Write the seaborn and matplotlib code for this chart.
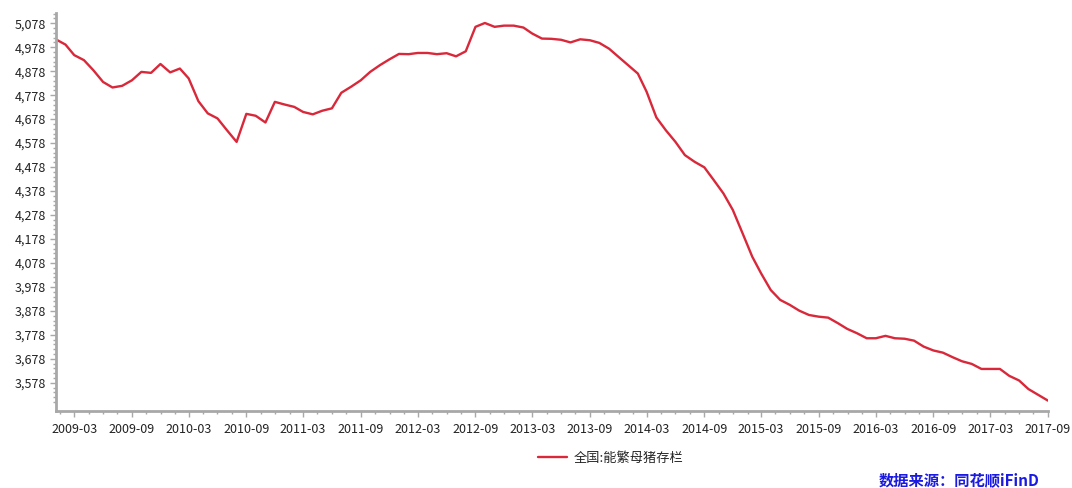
# =====================================================
# 全国能繁母猪存栏 - LINE CHART
# =====================================================

import pandas as pd
import matplotlib.pyplot as plt
import matplotlib.dates as mdates
from matplotlib.ticker import FixedLocator, FuncFormatter
import seaborn as sns

# =====================================================
# DATA (万头, monthly 2009-01 .. 2017-09)
# =====================================================

start_month = "2009-01"

sow_stock = [
    5011, 4989, 4945, 4924, 4882, 4833, 4810, 4817, 4840, 4875,
    4871, 4908, 4873, 4889, 4848, 4753, 4702, 4681, 4632, 4583,
    4700, 4692, 4664, 4750, 4739, 4729, 4708, 4698, 4713, 4723,
    4788, 4813, 4840, 4875, 4903, 4927, 4950, 4949, 4954, 4954,
    4949, 4953, 4940, 4961, 5063, 5079, 5063, 5068, 5068, 5060,
    5035, 5014, 5013, 5009, 4998, 5011, 5007, 4996, 4972, 4938,
    4903, 4868, 4792, 4685, 4632, 4583, 4528, 4500, 4477, 4424,
    4368, 4299, 4202, 4104, 4035, 3965, 3924, 3903, 3879, 3861,
    3854, 3850, 3827, 3803, 3785, 3764, 3764, 3774, 3764, 3762,
    3754, 3729, 3713, 3704, 3685, 3668, 3657, 3636, 3636, 3636,
    3607, 3588, 3552, 3528, 3504,
]

x_tick_labels = [
    "2009-03", "2009-09", "2010-03", "2010-09", "2011-03", "2011-09",
    "2012-03", "2012-09", "2013-03", "2013-09", "2014-03", "2014-09",
    "2015-03", "2015-09", "2016-03", "2016-09", "2017-03", "2017-09",
]

y_tick_values = [3578, 3678, 3778, 3878, 3978, 4078, 4178, 4278,
                 4378, 4478, 4578, 4678, 4778, 4878, 4978, 5078]

series_name = "全国:能繁母猪存栏"
source_text = "数据来源：同花顺iFinD"

df = pd.DataFrame({
    "month": pd.date_range(start_month, periods=len(sow_stock), freq="MS"),
    "value": sow_stock,
})

# =====================================================
# STYLE SETTINGS
# =====================================================

sns.set_style("white")
plt.rcParams["font.family"] = ["Noto Sans CJK SC", "DejaVu Sans"]

line_color = "#d8283a"
axis_color = "#a8a8a8"

# =====================================================
# PLOT
# =====================================================

fig = plt.figure(figsize=(10.72, 4.88), dpi=100)
ax = fig.add_axes([0.052, 0.158, 0.9255, 0.816])

sns.lineplot(
    data=df,
    x="month",
    y="value",
    color=line_color,
    linewidth=1.7,
    label=series_name,
    ax=ax
)

ax.set_xlim(df["month"].iloc[0], df["month"].iloc[-1])
ax.set_ylim(3461, 5122)

# x ticks: every six months, minor ticks in between
major_dates = pd.to_datetime(x_tick_labels)
major_num = mdates.date2num(major_dates)
step = (major_num[1] - major_num[0]) / 4
minor_num = []
for m in list(major_num) + [major_num[0] - 4 * step]:
    for k in range(1, 4):
        minor_num.append(m + k * step)
ax.xaxis.set_major_locator(FixedLocator(major_num))
ax.xaxis.set_minor_locator(FixedLocator(minor_num))
ax.set_xticklabels(x_tick_labels)

# y ticks
ax.yaxis.set_major_locator(FixedLocator(y_tick_values))
ax.yaxis.set_minor_locator(FixedLocator(
    [v + d for v in [3478] + y_tick_values for d in (20, 40, 60, 80)]
))
ax.yaxis.set_major_formatter(FuncFormatter(lambda v, p: f"{int(round(v)):,}"))

ax.tick_params(axis="both", which="major", length=4, width=1,
               color=axis_color, labelsize=9, labelcolor="#222222", pad=3)
ax.tick_params(axis="both", which="minor", length=2.5, width=1,
               color=axis_color)
ax.tick_params(axis="x", which="major", pad=5)
ax.tick_params(axis="x", which="both", bottom=True)
ax.tick_params(axis="y", which="both", left=True)

ax.set_xlabel("")
ax.set_ylabel("")

for side in ["top", "right"]:
    ax.spines[side].set_visible(False)
for side in ["left", "bottom"]:
    ax.spines[side].set_color(axis_color)
    ax.spines[side].set_linewidth(2)

# =====================================================
# LEGEND AND SOURCE
# =====================================================

ax.legend(
    loc="center",
    bbox_to_anchor=(0.57, 0.061),
    bbox_transform=fig.transFigure,
    frameon=False,
    fontsize=9.5,
    handlelength=2.2,
    handletextpad=0.5
)

fig.text(
    0.970, 0.016,
    source_text,
    ha="right",
    va="center",
    color="#1a1ae0",
    fontsize=11,
    fontweight="bold"
)

plt.savefig("out.png", dpi=100)
